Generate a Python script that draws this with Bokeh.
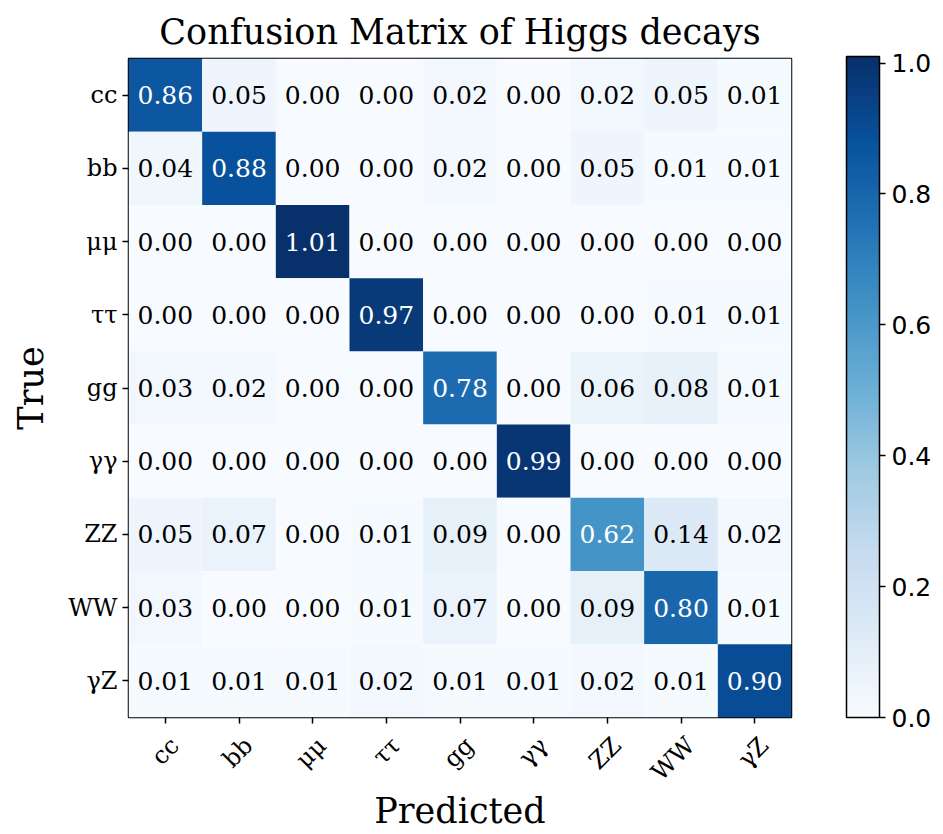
import numpy as np
from math import pi
from bokeh.plotting import figure
from bokeh.models import (ColumnDataSource, LinearColorMapper, ColorBar, FixedTicker,
                          Range1d, PrintfTickFormatter, LinearAxis)
from bokeh.palettes import Blues256
from bokeh.embed import file_html
from bokeh.resources import INLINE
from bokeh.core.properties import value

classes = ["cc", "bb", "μμ", "ττ", "gg", "γγ", "ZZ", "WW", "γZ"]
row_cc = [0.86, 0.05, 0.00, 0.00, 0.02, 0.00, 0.02, 0.05, 0.01]
row_bb = [0.04, 0.88, 0.00, 0.00, 0.02, 0.00, 0.05, 0.01, 0.01]
row_mm = [0.00, 0.00, 1.01, 0.00, 0.00, 0.00, 0.00, 0.00, 0.00]
row_tt = [0.00, 0.00, 0.00, 0.97, 0.00, 0.00, 0.00, 0.01, 0.01]
row_gg = [0.03, 0.02, 0.00, 0.00, 0.78, 0.00, 0.06, 0.08, 0.01]
row_aa = [0.00, 0.00, 0.00, 0.00, 0.00, 0.99, 0.00, 0.00, 0.00]
row_zz = [0.05, 0.07, 0.00, 0.01, 0.09, 0.00, 0.62, 0.14, 0.02]
row_ww = [0.03, 0.00, 0.00, 0.01, 0.07, 0.00, 0.09, 0.80, 0.01]
row_az = [0.01, 0.01, 0.01, 0.02, 0.01, 0.01, 0.02, 0.01, 0.90]
matrix = [row_cc, row_bb, row_mm, row_tt, row_gg, row_aa, row_zz, row_ww, row_az]
cbar_ticks = [0.0, 0.2, 0.4, 0.6, 0.8, 1.0]

n = len(classes)
xs, ys, vals, labels, tcolors = [], [], [], [], []
for i, row in enumerate(matrix):
    for j, v in enumerate(row):
        xs.append(j)
        ys.append(i)
        vals.append(v)
        labels.append(f"{v:.2f}")
        tcolors.append("white" if v > 0.505 else "black")
src = ColumnDataSource(dict(x=xs, y=ys, v=vals, label=labels, tc=tcolors))

palette = list(Blues256)[::-1]
mapper = LinearColorMapper(palette=palette, low=0.0, high=1.01)

SERIF = "DejaVu Serif"

p = figure(width=943, height=834, output_backend="svg", toolbar_location=None,
           x_range=Range1d(-0.5, n - 0.5), y_range=Range1d(n - 0.5, -0.5),
           min_border_left=128, min_border_right=152, min_border_top=58,
           min_border_bottom=117)
p.title.text = "Confusion Matrix of Higgs decays"
p.title.text_font = SERIF
p.title.text_font_size = "35px"
p.title.text_font_style = "normal"
p.title.text_color = "black"
p.title.align = "center"
p.title.offset = 0
p.title.standoff = 14

p.rect(x="x", y="y", width=1, height=1, source=src,
       fill_color={"field": "v", "transform": mapper}, line_color=None)
p.text(x="x", y="y", text="label", source=src, text_color="tc",
       text_align="center", text_baseline="middle",
       text_font=value(SERIF), text_font_size="25px")

p.grid.visible = False
p.outline_line_color = "black"
p.outline_line_width = 1.5

for ax in (p.xaxis, p.yaxis):
    ax.ticker = FixedTicker(ticks=list(range(n)))
    ax.major_label_overrides = {i: c for i, c in enumerate(classes)}
    ax.major_label_text_font = SERIF
    ax.major_label_text_font_size = "24px"
    ax.major_label_text_color = "black"
    ax.axis_label_text_font = SERIF
    ax.axis_label_text_font_size = "35px"
    ax.axis_label_text_font_style = "normal"
    ax.axis_label_text_color = "black"
    ax.minor_tick_line_color = None
    ax.major_tick_out = 6
    ax.major_tick_in = 0
    ax.major_tick_line_width = 1.5
    ax.major_tick_line_color = "black"
    ax.axis_line_color = None

p.yaxis.axis_label = "True"
p.yaxis.major_label_standoff = 5
p.yaxis.axis_label_standoff = 14

# main x axis: tick marks only (labels shifted onto a second axis so that
# they sit centred under the ticks like the reference)
p.xaxis.major_label_overrides = {i: "" for i in range(n)}
p.xaxis.major_label_standoff = 0
p.xaxis.major_label_text_font_size = "1px"

shift = 0.13
lab_axis = LinearAxis(ticker=FixedTicker(ticks=[k + shift for k in range(n)]),
                      major_label_overrides={k + shift: c for k, c in enumerate(classes)},
                      major_label_orientation=pi / 4,
                      major_label_text_font=SERIF,
                      major_label_text_font_size="24px",
                      major_label_text_color="black",
                      major_label_standoff=12,
                      major_tick_line_color=None, minor_tick_line_color=None,
                      axis_line_color=None,
                      axis_label="Predicted",
                      axis_label_text_font=SERIF,
                      axis_label_text_font_size="35px",
                      axis_label_text_font_style="normal",
                      axis_label_text_color="black",
                      axis_label_text_line_height=1.0,
                      axis_label_standoff=-8)
p.add_layout(lab_axis, "below")

cb = ColorBar(color_mapper=mapper, ticker=FixedTicker(ticks=cbar_ticks),
              formatter=PrintfTickFormatter(format="%.1f"),
              width=33, height=661, padding=0, margin=0,
              location=(55, 0),
              major_label_text_font="DejaVu Sans",
              major_label_text_font_size="25px",
              major_label_text_color="black",
              major_tick_out=6, major_tick_in=0, major_tick_line_color="black",
              major_tick_line_width=1.5,
              bar_line_color="black", bar_line_width=1.5,
              minor_tick_line_color=None, label_standoff=6)
p.add_layout(cb, "right")

open("out.html", "w").write(file_html(p, INLINE))
